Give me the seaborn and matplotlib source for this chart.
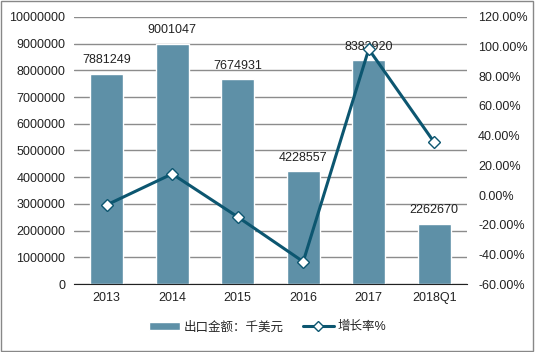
import pandas as pd
import numpy as np
import matplotlib.pyplot as plt
import seaborn as sns
from matplotlib.lines import Line2D
from matplotlib.patches import Patch

years = ["2013", "2014", "2015", "2016", "2017", "2018Q1"]
export_value = [7881249, 9001047, 7674931, 4228557, 8383920, 2262670]
growth_pct = [-6.7, 14.21, -14.73, -44.9, 98.27, 35.4]

df = pd.DataFrame({"年份": years, "出口金额": export_value, "增长率": growth_pct})

sns.set_style("white")
plt.rcParams['font.family'] = ['Liberation Sans', 'Noto Sans CJK SC', 'DejaVu Sans']

bar_color = "#5E90A7"
line_color = "#0C5670"

fig = plt.figure(figsize=(5.35, 3.52), dpi=100)
ax = fig.add_axes([0.138, 0.193, 0.735, 0.759])
sns.barplot(data=df, x="年份", y="出口金额", color=bar_color, width=0.5, saturation=1, ax=ax)
ax.set_ylim(0, 10000000)
ax.set_yticks(np.arange(0, 10000001, 1000000))
ax.set_yticklabels([str(v) for v in range(0, 10000001, 1000000)])
ax.yaxis.grid(True, color="#8c8c8c", linewidth=1)
ax.set_axisbelow(True)
ax.set_xlabel("")
ax.set_ylabel("")
for s in ["left", "right", "top"]:
    ax.spines[s].set_visible(False)
ax.spines["bottom"].set_color("#222222")
ax.tick_params(axis="both", length=0, labelsize=9, colors="#222222", pad=6)
ax.set_xlim(-0.5, len(years) - 0.5)
for i, v in enumerate(export_value):
    ax.text(i, v + 280000, str(v), ha="center", va="bottom", fontsize=9, color="#222222")

ax2 = ax.twinx()
sns.lineplot(x=list(range(len(years))), y=growth_pct, color=line_color, linewidth=2.2,
             marker="D", markersize=6.5, markerfacecolor="white", markeredgecolor=line_color,
             markeredgewidth=1, ax=ax2)
ax2.set_ylim(-60, 120)
ax2.set_yticks(np.arange(-60, 121, 20))
ax2.set_yticklabels([f"{v:.2f}%" for v in np.arange(-60, 121, 20)])
ax2.tick_params(axis="y", length=0, labelsize=9, colors="#222222", pad=8)
for s in ["left", "right", "top", "bottom"]:
    ax2.spines[s].set_visible(False)

handles = [Patch(facecolor=bar_color, label="出口金额：千美元"),
           Line2D([0], [0], color=line_color, linewidth=2.2, marker="D", markersize=5,
                  markerfacecolor="white", markeredgecolor=line_color, label="增长率%")]
fig.legend(handles=handles, loc="center", bbox_to_anchor=(0.5, 0.07), ncol=2, frameon=False,
           fontsize=9, handlelength=2.5, handleheight=0.7, columnspacing=1.5, handletextpad=0.3)

fig.patches.append(plt.Rectangle((0.002, 0.003), 0.995, 0.994, transform=fig.transFigure,
                                 fill=False, edgecolor="#888888", linewidth=1))
fig.savefig("out.png", dpi=100)
